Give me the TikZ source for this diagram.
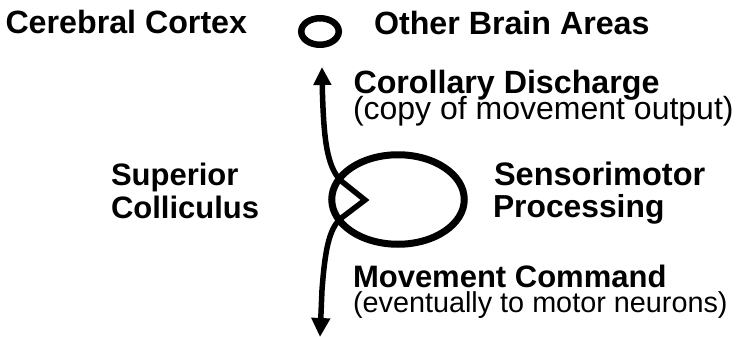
\documentclass[tikz,border=0pt]{standalone}
\usepackage{fontspec}
\setmainfont{Liberation Sans}
\usetikzlibrary{arrows.meta}

\begin{document}
\begin{tikzpicture}[x=1pt,y=-1pt,
  lbl/.style={anchor=base west,inner sep=0pt,outer sep=0pt,
              font=\fontsize{#1}{38}\selectfont\bfseries},
  lbl/.default=31.5,
  sub/.style={anchor=base west,inner sep=0pt,outer sep=0pt,
              font=\fontsize{#1}{36}\selectfont},
  sub/.default=30,
  pathway/.style={line width=5.5pt,line join=miter,
              {Triangle[width=17pt,length=18pt]}-{Triangle[width=18pt,length=19pt]}},
  area/.style={line width=7pt}]
\useasboundingbox (0,0) rectangle (739,337);

% brain regions
\draw[line width=6.5pt] (320,31.5) ellipse [x radius=18.75, y radius=13.25];
\draw[area] (398,199.5) ellipse [x radius=66.25, y radius=44.75];

% end points of the signal pathway
\coordinate (upTip) at (322,67);
\coordinate (apex) at (365,200);
\coordinate (downTip) at (320,337);

% corollary discharge upward, movement command downward
\draw[pathway] (upTip) -- (322.5,95)
  .. controls (324,140) and (327,165) .. (340,180) -- (apex)
  -- (340,219) .. controls (329,230) and (325,250) .. (322,290) -- (downTip);

% labels
\node[lbl=32.2] (cortex) at (5.5,34) {Cerebral Cortex};
\node[lbl=32.2] (other) at (374,35) {Other Brain Areas};
\node[lbl=32.2] (cd) at (353.5,93.5) {Corollary Discharge};
\node[sub=32] (cdsub) at (353,119.5) {(copy of movement output)};
\node[lbl=31] (sc1) at (111,185) {Superior};
\node[lbl=31] (sc2) at (111,218) {Colliculus};
\node[lbl=32.5] (sm1) at (494,185) {Sensorimotor};
\node[lbl=31.8] (sm2) at (493,217) {Processing};
\node[lbl=31] (mc) at (353,287) {Movement Command};
\node[sub=28.8] (mcsub) at (353,312) {(eventually to motor neurons)};
\end{tikzpicture}
\end{document}
